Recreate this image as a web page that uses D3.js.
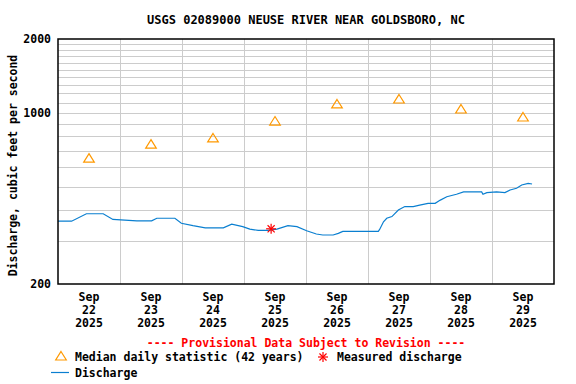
<!DOCTYPE html>
<html lang="en">
<head>
<meta charset="UTF-8">
<title>USGS 02089000 Neuse River near Goldsboro</title>
<script src="https://cdn.jsdelivr.net/npm/d3@7"></script>
<style>
  * { padding: 0; margin: 0; }
  body { background: #fff; }
  text { font-family: "DejaVu Sans Mono", monospace; font-weight: bold; fill: #000; }
</style>
</head>
<body>
<div id="grafico"></div>
<script>
// data
var dischargeTimes = [
  "2025-09-22 00:00", "2025-09-22 05:15", "2025-09-22 11:00", "2025-09-22 17:30", "2025-09-22 21:15",
  "2025-09-23 06:30", "2025-09-23 12:15", "2025-09-23 14:15", "2025-09-23 21:15", "2025-09-23 23:45",
  "2025-09-24 04:15", "2025-09-24 09:00", "2025-09-24 16:00", "2025-09-24 19:15", "2025-09-24 23:30",
  "2025-09-25 02:15", "2025-09-25 05:30", "2025-09-25 09:15", "2025-09-25 12:45", "2025-09-25 17:00",
  "2025-09-25 20:30", "2025-09-26 00:15", "2025-09-26 04:00", "2025-09-26 06:30", "2025-09-26 10:30",
  "2025-09-26 12:30", "2025-09-26 14:15", "2025-09-27 04:00", "2025-09-27 04:30", "2025-09-27 06:00",
  "2025-09-27 07:15", "2025-09-27 09:15", "2025-09-27 11:45", "2025-09-27 14:15", "2025-09-27 17:30",
  "2025-09-27 20:00", "2025-09-27 23:15", "2025-09-28 02:00", "2025-09-28 04:00", "2025-09-28 06:30",
  "2025-09-28 10:15", "2025-09-28 13:00", "2025-09-28 20:00", "2025-09-28 20:30", "2025-09-28 22:00",
  "2025-09-29 01:45", "2025-09-29 05:00", "2025-09-29 07:00", "2025-09-29 09:30", "2025-09-29 11:30",
  "2025-09-29 14:00", "2025-09-29 15:30"
];
var dischargeCfs = [
  361, 361, 387, 387, 367,
  362, 362, 371, 371, 354,
  346, 339, 339, 351, 343,
  335, 331, 331, 335, 346,
  343, 330, 320, 317, 317,
  322, 328, 328, 334, 359,
  371, 377, 401, 414, 414,
  420, 427, 427, 440, 454,
  465, 475, 475, 465, 472,
  475, 472, 484, 492, 507,
  515, 512
];
var medianDays = ["2025-09-22", "2025-09-23", "2025-09-24", "2025-09-25", "2025-09-26", "2025-09-27", "2025-09-28", "2025-09-29"];
var medianCfs = [653, 745, 789, 925, 1086, 1138, 1036, 961];
var measuredTimes = ["2025-09-25 10:30"];
var measuredCfs = [336];
var yTickValues = [200, 1000, 2000];
var yGridValues = [300, 400, 500, 600, 700, 800, 900, 1000, 1100, 1200, 1300, 1400, 1500, 1600, 1700, 1800, 1900];

var W = 576, H = 384;
var mLeft = 58, mTop = 39, plotW = 496, plotH = 245;

var parseTime = d3.utcParse("%Y-%m-%d %H:%M");
var parseDay = d3.utcParse("%Y-%m-%d");

var xScale = d3.scaleUtc()
  .domain([parseDay("2025-09-22"), parseDay("2025-09-30")])
  .range([mLeft, mLeft + plotW]);
var yScale = d3.scaleLog()
  .domain([200, 2000])
  .range([mTop + plotH, mTop]);

var svg = d3.select("#grafico").append("svg")
  .attr("width", W).attr("height", H);

// title
svg.append("text")
  .attr("x", 306).attr("y", 24)
  .attr("text-anchor", "middle")
  .attr("font-size", "12px")
  .text("USGS 02089000 NEUSE RIVER NEAR GOLDSBORO, NC");

// grid
var dayLines = d3.utcDay.range(parseDay("2025-09-23"), parseDay("2025-09-30"));
svg.append("g").selectAll("line").data(dayLines).enter().append("line")
  .attr("x1", function(d) { return Math.round(xScale(d)) + 0.5; })
  .attr("x2", function(d) { return Math.round(xScale(d)) + 0.5; })
  .attr("y1", mTop).attr("y2", mTop + plotH)
  .attr("stroke", "#cccccc").attr("stroke-width", 1);
svg.append("g").selectAll("line").data(yGridValues).enter().append("line")
  .attr("x1", mLeft).attr("x2", mLeft + plotW)
  .attr("y1", function(d) { return Math.round(yScale(d)) + 0.5; })
  .attr("y2", function(d) { return Math.round(yScale(d)) + 0.5; })
  .attr("stroke", "#cccccc").attr("stroke-width", 1);

// y tick labels
svg.append("g").selectAll("text").data(yTickValues).enter().append("text")
  .attr("x", mLeft - 7)
  .attr("y", function(d) { return yScale(d) + 4; })
  .attr("text-anchor", "end")
  .attr("font-size", "11.5px")
  .text(function(d) { return d; });

// y axis title
svg.append("text")
  .attr("transform", "translate(17," + (mTop + plotH / 2 + 4) + ") rotate(-90)")
  .attr("text-anchor", "middle")
  .attr("font-size", "11.5px")
  .text("Discharge, cubic feet per second");

// x tick labels at noon of each day
var fmtMon = d3.utcFormat("%b"), fmtDay = d3.utcFormat("%d"), fmtYear = d3.utcFormat("%Y");
var xl = svg.append("g").selectAll("text").data(medianDays).enter().append("text")
  .attr("text-anchor", "middle")
  .attr("font-size", "11.5px");
xl.each(function(d) {
  var t = d3.utcHour.offset(parseDay(d), 12);
  var el = d3.select(this);
  var x = xScale(t);
  el.append("tspan").attr("x", x).attr("y", 301).text(fmtMon(t));
  el.append("tspan").attr("x", x).attr("y", 314).text(fmtDay(t));
  el.append("tspan").attr("x", x).attr("y", 327).text(fmtYear(t));
});

// discharge line
var lineData = dischargeTimes.map(function(t, i) { return { t: parseTime(t), v: dischargeCfs[i] }; });
var line = d3.line()
  .x(function(d) { return xScale(d.t); })
  .y(function(d) { return yScale(d.v); });
svg.append("path")
  .datum(lineData)
  .attr("d", line)
  .attr("fill", "none")
  .attr("stroke", "#0a7fd0")
  .attr("stroke-width", 1.2);

// median triangles (wide, flat outline like the original)
var tri = "M0,-4.5L5.3,4L-5.3,4Z";
svg.append("g").selectAll("path").data(medianDays).enter().append("path")
  .attr("d", tri)
  .attr("transform", function(d, i) {
    return "translate(" + xScale(d3.utcHour.offset(parseDay(d), 12)) + "," + yScale(medianCfs[i]) + ")";
  })
  .attr("fill", "none")
  .attr("stroke", "#ff9900")
  .attr("stroke-width", 1.2);

// asterisk marker
function asterisk(g, r) {
  for (var k = 0; k < 4; k++) {
    var a = k * Math.PI / 4;
    g.append("line")
      .attr("x1", -r * Math.cos(a)).attr("y1", -r * Math.sin(a))
      .attr("x2", r * Math.cos(a)).attr("y2", r * Math.sin(a))
      .attr("stroke", "#ff0000").attr("stroke-width", 1.2);
  }
}
svg.append("g").selectAll("g").data(measuredTimes).enter().append("g")
  .attr("transform", function(d, i) {
    return "translate(" + xScale(parseTime(d)) + "," + yScale(measuredCfs[i]) + ")";
  })
  .each(function() { asterisk(d3.select(this), 5); });

// frame
svg.append("rect")
  .attr("x", mLeft).attr("y", mTop)
  .attr("width", plotW).attr("height", plotH)
  .attr("fill", "none").attr("stroke", "#000").attr("stroke-width", 1.5);

// provisional note
svg.append("text")
  .attr("x", 306).attr("y", 347)
  .attr("text-anchor", "middle")
  .attr("font-size", "11.5px")
  .style("fill", "#ff0000")
  .text("---- Provisional Data Subject to Revision ----");

// legend
svg.append("path")
  .attr("d", tri)
  .attr("transform", "translate(61,356)")
  .attr("fill", "none").attr("stroke", "#ff9900").attr("stroke-width", 1.2);
svg.append("text").attr("x", 75).attr("y", 361).attr("font-size", "11.5px")
  .text("Median daily statistic (42 years)");
asterisk(svg.append("g").attr("transform", "translate(323,357)"), 5);
svg.append("text").attr("x", 337).attr("y", 361).attr("font-size", "11.5px")
  .text("Measured discharge");
svg.append("line")
  .attr("x1", 51).attr("x2", 69).attr("y1", 372.5).attr("y2", 372.5)
  .attr("stroke", "#0a7fd0").attr("stroke-width", 1.2);
svg.append("text").attr("x", 75).attr("y", 377).attr("font-size", "11.5px")
  .text("Discharge");
</script>
</body>
</html>
